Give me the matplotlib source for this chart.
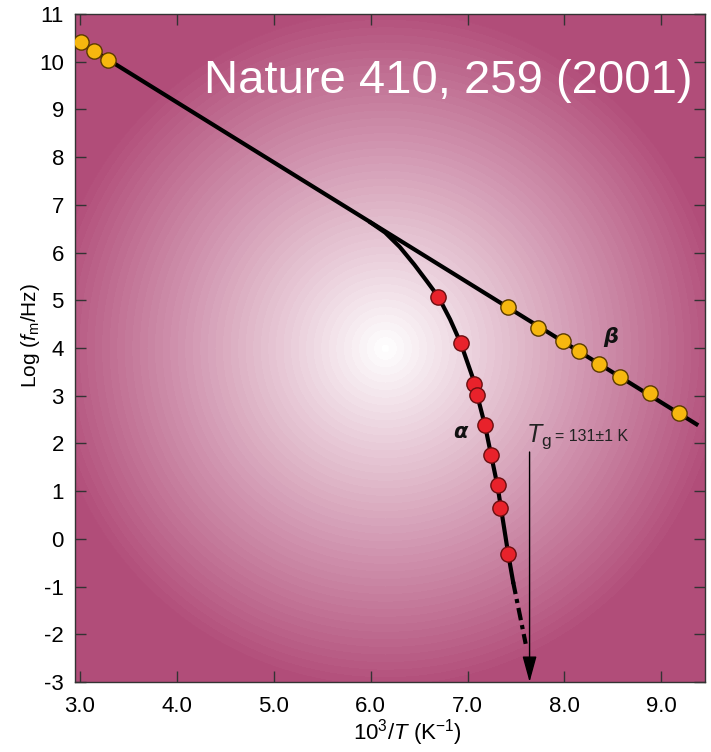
import numpy as np
import matplotlib.pyplot as plt

plt.rcParams['font.family'] = ['Liberation Sans', 'DejaVu Sans']
plt.rcParams['mathtext.fontset'] = 'custom'
plt.rcParams['mathtext.rm'] = 'Liberation Sans'
plt.rcParams['mathtext.it'] = 'Liberation Sans:italic'
plt.rcParams['axes.unicode_minus'] = False

# beta relaxation (yellow)
beta_x = [3.01, 3.15, 3.29, 7.42, 7.73, 7.98, 8.15, 8.36, 8.57, 8.88, 9.18]
beta_y = [10.41, 10.22, 10.04, 4.86, 4.41, 4.14, 3.93, 3.66, 3.39, 3.05, 2.63]

# alpha relaxation (red)
alpha_x = [6.70, 6.93, 7.07, 7.10, 7.18, 7.24, 7.31, 7.34, 7.42]
alpha_y = [5.07, 4.10, 3.24, 3.01, 2.38, 1.75, 1.13, 0.64, -0.32]

# drawn alpha curve, plus its dashed extrapolation
curve_x = [6.00, 6.15, 6.30, 6.45, 6.58, 6.70, 6.82, 6.93, 7.05, 7.18, 7.31, 7.42, 7.47]
curve_y = [6.63, 6.42, 6.12, 5.75, 5.40, 5.07, 4.60, 4.10, 3.40, 2.38, 1.10, -0.32, -0.90]
extrap_x = [7.47, 7.60]
extrap_y = [-0.90, -2.20]

x_ticks = [3.0, 4.0, 5.0, 6.0, 7.0, 8.0, 9.0]
y_ticks = list(range(-3, 12))

fig = plt.figure(figsize=(7.11, 7.52), dpi=100)
ax = fig.add_axes([75/711, 1-682/752, 630/711, 668/752])
xlim = (2.95, 9.45)
ylim = (-3, 11)

# radial background
nx, ny = 630, 668
xx, yy = np.meshgrid(np.arange(nx), np.arange(ny))
r = np.hypot(xx - 310, yy - 334)
t = np.clip(r / 340.0, 0, 1)
t = np.round(t * 45) / 45
f = t ** 1.0
edge = np.array([178, 78, 122]) / 255.0
img = (1 - f)[..., None] * np.ones(3) + f[..., None] * edge
ax.imshow(img, extent=(xlim[0], xlim[1], ylim[0], ylim[1]), origin='upper',
          aspect='auto', zorder=0)

# beta line from a linear fit
k, b = np.polyfit(beta_x, beta_y, 1)
lx = np.array([beta_x[0], 9.38])
ax.plot(lx, k*lx + b, color='black', lw=3, zorder=2, solid_capstyle='butt')

ax.plot(curve_x, curve_y, color='black', lw=3, zorder=2)
ax.plot(extrap_x, extrap_y, color='black', lw=3, zorder=2,
        linestyle=(0, (3, 1.2, 1, 1.2)))

ax.plot(beta_x, beta_y, 'o', ms=11, mfc='#f6b70f', mec='#5a3a00', mew=1, zorder=3)
ax.plot(alpha_x, alpha_y, 'o', ms=11, mfc='#e8222b', mec='#6a0e10', mew=1, zorder=3)

ax.text(6.93, 2.24, 'α', fontsize=15, fontweight='bold', style='italic',
        family='DejaVu Sans', ha='center', va='center', color='#111')
ax.text(8.48, 4.23, 'β', fontsize=15, fontweight='bold', style='italic',
        family='DejaVu Sans', ha='center', va='center', color='#111')

ax.text(7.60, 2.03, r'$T_{\rm g}$', fontsize=18, color='#222', va='baseline')
ax.text(7.90, 2.05, '= 131±1 K', fontsize=11.5, color='#222', va='baseline')
ax.annotate('', xy=(7.64, -3.0), xytext=(7.64, 1.82),
            arrowprops=dict(arrowstyle='-|>,head_length=0.8,head_width=0.22',
                            lw=1, color='black', mutation_scale=20, shrinkA=0, shrinkB=0),
            zorder=2)

ax.set_xlim(xlim)
ax.set_ylim(ylim)
ax.set_xticks(x_ticks)
ax.set_xticklabels(['%.1f' % v for v in x_ticks])
ax.set_yticks(y_ticks)
ax.tick_params(direction='in', top=True, right=True, length=8, width=1, color='#333')
ax.tick_params(axis='x', labelsize=16, pad=10)
ax.tick_params(axis='y', labelsize=16, pad=8)
for s in ax.spines.values():
    s.set_color('#333')
    s.set_linewidth(1)

ax.set_xlabel(r'10$^3$/$T$ (K$^{-1}$)', fontsize=16)
ax.xaxis.set_label_coords(0.527, -0.052)
ax.set_ylabel(r'Log ($f_{\rm m}$/Hz)', fontsize=15)
ax.yaxis.set_label_coords(-0.052, 0.518)

fig.text(693/711, 1-93/752, 'Nature 410, 259 (2001)', fontsize=34, color='white',
         ha='right', va='baseline')

fig.savefig('out.png', dpi=100)
